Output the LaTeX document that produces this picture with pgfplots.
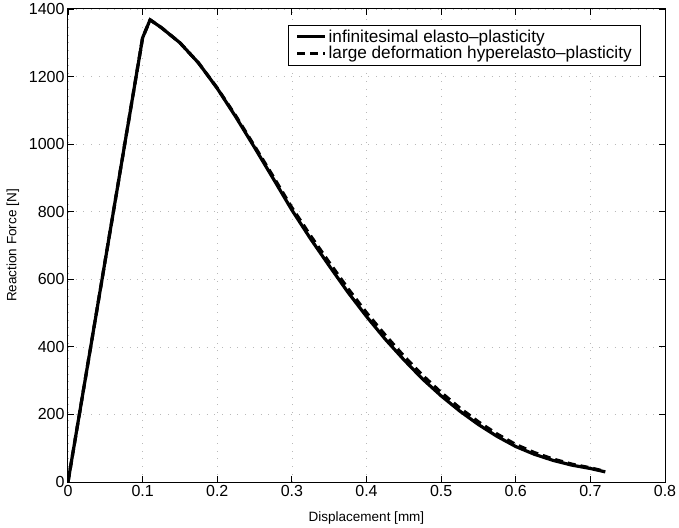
\documentclass[border=0pt]{standalone}
\usepackage{fontspec}
\setmainfont{Liberation Sans}
\usepackage{pgfplots}
\pgfplotsset{compat=1.18}

\begin{document}
\begin{tikzpicture}
\begin{axis}[
    scale only axis,
    width=597pt, height=473pt,
    xmin=0, xmax=0.8, ymin=0, ymax=1400,
    xtick={0,0.1,...,0.8},
    ytick={0,200,...,1400},
    xticklabels={0,0.1,0.2,0.3,0.4,0.5,0.6,0.7,0.8},
    /pgf/number format/assume math mode=true,
    /pgf/number format/set thousands separator={},
    tick align=inside,
    major tick length=6pt,
    axis line style={line width=1pt},
    every tick/.style={black, line width=0.8pt},
    ticklabel style={font=\fontsize{16}{17}\selectfont},
    grid=major,
    major grid style={gray!55, line width=0.6pt, dash pattern=on 0.7pt off 7pt},
    xlabel={Displacement [mm]},
    ylabel={Reaction Force [N]},
    every axis x label/.style={at={(axis description cs:0.5,0)}, yshift=-36pt, anchor=center,
        font=\fontsize{13.5}{14}\selectfont},
    every axis y label/.style={at={(axis description cs:0,0.5)}, xshift=-55pt, rotate=90, anchor=center,
        font=\fontsize{13.5}{14}\selectfont},
    legend style={at={(0.96,0.966)}, anchor=north east, draw=black, line width=0.8pt,
        font=\fontsize{17.2}{19}\selectfont, inner xsep=7pt, inner ysep=2.5pt,
        cells={anchor=west}, row sep=-1.5pt},
    legend image code/.code={\draw[#1, line width=3pt] (0pt,0pt) -- (28pt,0pt);},
]
\addplot[black, line width=3.2pt, line join=round] coordinates {
    (0,0) (0.1,1315) (0.11,1368) (0.125,1345) (0.15,1300) (0.175,1240)
    (0.2,1165) (0.225,1080) (0.25,990) (0.275,898) (0.3,805) (0.325,720)
    (0.35,640) (0.375,562) (0.4,490) (0.425,423) (0.45,362) (0.475,305)
    (0.5,255) (0.525,210) (0.55,170) (0.575,135) (0.6,105) (0.625,82)
    (0.65,64) (0.675,50) (0.7,40) (0.72,30)
};
\addplot[black, line width=3.2pt, dash pattern=on 8pt off 5pt] coordinates {
    (0,0) (0.1,1315) (0.11,1368) (0.125,1345) (0.15,1300) (0.175,1240)
    (0.2,1166) (0.225,1083) (0.25,994) (0.275,904) (0.3,812) (0.325,729)
    (0.35,650) (0.375,573) (0.4,501) (0.425,435) (0.45,373) (0.475,316)
    (0.5,265) (0.525,219) (0.55,178) (0.575,142) (0.6,111) (0.625,87)
    (0.65,68) (0.675,53) (0.7,42) (0.72,31)
};
\legend{infinitesimal elasto--plasticity, large deformation hyperelasto--plasticity}
\end{axis}
\pgfresetboundingbox
\path (-68pt,-45pt) rectangle (611pt,482pt);
\end{tikzpicture}
\end{document}
